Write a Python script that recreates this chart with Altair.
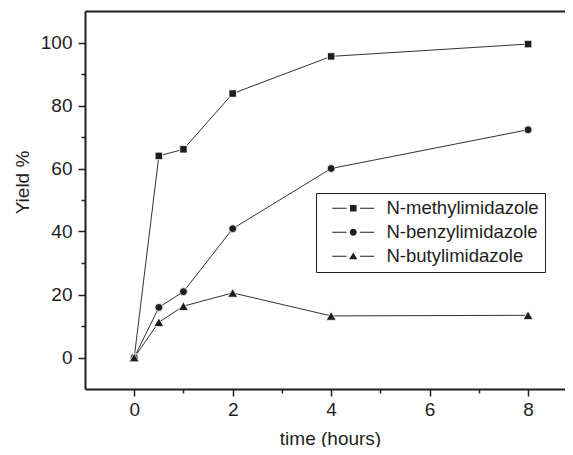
import altair as alt
import pandas as pd

# ---- data ----
time_h = [0, 0.5, 1, 2, 4, 8]
series = ["N-methylimidazole", "N-benzylimidazole", "N-butylimidazole"]
methyl = [0, 64.0, 66.1, 83.8, 95.6, 99.5]
benzyl = [0, 15.9, 20.9, 40.9, 60.0, 72.3]
butyl = [0, 11.2, 16.3, 20.5, 13.2, 13.4]
x_ticks = [0, 1, 2, 3, 4, 5, 6, 7, 8]
y_ticks = [0, 10, 20, 30, 40, 50, 60, 70, 80, 90, 100]

rows = []
for name, vals in zip(series, [methyl, benzyl, butyl]):
    for t, v in zip(time_h, vals):
        rows.append({"time": t, "yield": v, "series": name})
df = pd.DataFrame(rows)

INK = "#1e1e1e"
FONT = "Liberation Sans"

x_scale = alt.Scale(domain=[-1, 8.75], nice=False, zero=False)
y_scale = alt.Scale(domain=[-10, 110], nice=False, zero=False)

y_axis = alt.Axis(
    values=y_ticks, title="Yield %", grid=False,
    labelExpr="datum.value % 20 === 0 ? datum.label : ''",
    labelFont=FONT, labelFontSize=19, labelColor=INK, labelPadding=6,
    tickSize={"condition": {"test": "datum.value % 20 === 0", "value": 7}, "value": 4},
    tickWidth=1.5, tickColor=INK,
    domainColor=INK, domainWidth=2,
    titleFont=FONT, titleFontSize=19, titleFontWeight="normal", titleColor=INK,
    titleAngle=-90, titleX=-63, titleY=171, titleAlign="center", titleBaseline="middle",
)

x_axis_bottom = alt.Axis(
    orient="bottom", values=x_ticks, title="time (hours)", grid=False,
    labelExpr="datum.value % 2 === 0 ? datum.label : ''",
    labelFont=FONT, labelFontSize=19, labelColor=INK, labelPadding=4,
    tickSize={"condition": {"test": "datum.value % 2 === 0", "value": 7}, "value": 4},
    tickWidth=1.5, tickColor=INK,
    domainColor=INK, domainWidth=2,
    titleFont=FONT, titleFontSize=19, titleFontWeight="normal", titleColor=INK,
    titleX=245, titleY=49, titleAlign="center", titleBaseline="middle",
)

x_axis_top = alt.Axis(
    orient="top", ticks=False, labels=False, title=None, grid=False,
    domainColor=INK, domainWidth=2,
)

base = alt.Chart(df)

lines = base.mark_line(color="#333333", strokeWidth=1).encode(
    x=alt.X("time:Q", scale=x_scale, axis=x_axis_top),
    y=alt.Y("yield:Q", scale=y_scale, axis=y_axis),
    detail="series:N",
)

marker_shapes = ["square", "circle", "triangle-up"]
marker_sizes = [55, 62, 100]
point_layers = []
for i, (name, shp, sz) in enumerate(zip(series, marker_shapes, marker_sizes)):
    point_layers.append(
        base.transform_filter(alt.datum.series == name)
        .mark_point(filled=True, shape=shp, size=sz, fill=INK, stroke="white", strokeWidth=0.8, opacity=1)
        .encode(
            x=alt.X("time:Q", scale=x_scale, axis=x_axis_bottom if i == 0 else None),
            y=alt.Y("yield:Q", scale=y_scale, axis=y_axis),
        )
    )

# legend-only layer: line + marker + line glyphs (lines drawn as thin filled bars)
dash = "M-3,-0.075H-0.95V0.075H-3ZM0.95,-0.075H3V0.075H0.95Z"
legend_paths = [
    dash + "M-0.47,-0.47H0.47V0.47H-0.47Z",
    dash + "M-0.5,0A0.5,0.5 0 1,0 0.5,0A0.5,0.5 0 1,0 -0.5,0Z",
    dash + "M0,-0.52L0.58,0.42H-0.58Z",
]
legend_layer = base.transform_filter("false").mark_point(
    filled=True, fill=INK, size=196, opacity=1
).encode(
    x=alt.X("time:Q", scale=x_scale, axis=None),
    y=alt.Y("yield:Q", scale=y_scale, axis=y_axis),
    shape=alt.Shape(
        "series:N",
        scale=alt.Scale(domain=series, range=legend_paths),
        legend=alt.Legend(
            title=None, orient="none", legendX=231, legendY=182,
            symbolSize=196, symbolOffset=22, labelOffset=24,
            symbolFillColor=INK,
            labelFont=FONT, labelFontSize=18.5, labelColor=INK,
            rowPadding=5, padding=6,
            strokeColor=INK, fillColor="white",
        ),
    ),
)

chart = (
    alt.layer(lines, *point_layers, legend_layer)
    .resolve_axis(x="independent")
    .properties(
        width=480, height=378,
        autosize=alt.AutoSizeParams(type="none"),
        padding={"left": 77, "top": 3, "right": 0, "bottom": 58},
    )
    .configure_view(stroke=None)
    .configure(background="white")
)

chart.save("out.html", embed_options={"renderer": "svg", "actions": False})
